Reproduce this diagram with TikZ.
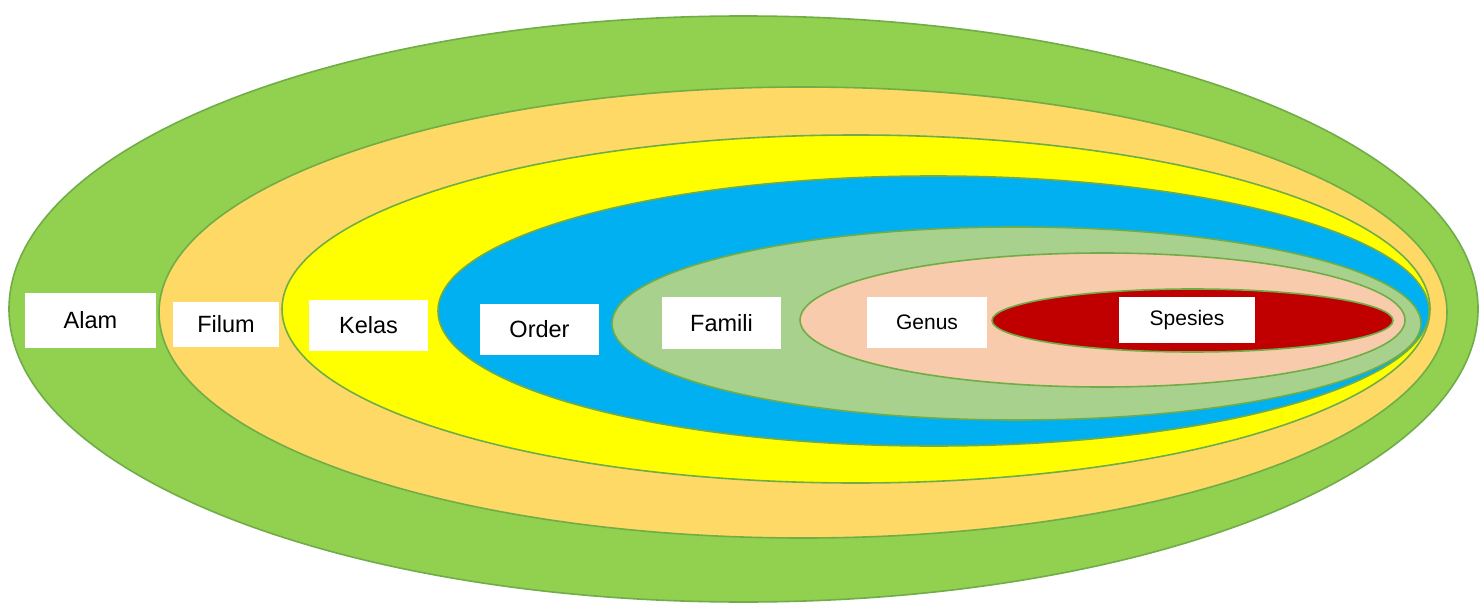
\documentclass[tikz,border=0pt]{standalone}
\usepackage{fontspec}
\setmainfont{Liberation Sans}
\definecolor{cAlam}{HTML}{92D050}
\definecolor{cFilum}{HTML}{FFD966}
\definecolor{cKelas}{HTML}{FFFF00}
\definecolor{cOrder}{HTML}{00B0F0}
\definecolor{cFamili}{HTML}{A9D18E}
\definecolor{cGenus}{HTML}{F8CBAD}
\definecolor{cSpesies}{HTML}{C00000}
\definecolor{cEdge}{HTML}{70AD47}
\tikzset{
  ring/.style={draw=cEdge, line width=1.6pt},
  lbl/.style={fill=white, inner sep=0pt, text=black, align=center, font=\fontsize{23.5}{28}\selectfont},
  lblsmall/.style={lbl, font=\fontsize{21}{25}\selectfont}
}
\begin{document}
\begin{tikzpicture}[x=1pt,y=-1pt]
\useasboundingbox (0,0) rectangle (1479,604);
\fill[white] (0,0) rectangle (1479,604);
\draw[ring, fill=cAlam]    (743.5,309)   ellipse [x radius=734.5pt, y radius=293pt];
\draw[ring, fill=cFilum]   (803,312.5)   ellipse [x radius=644pt,   y radius=225.5pt];
\draw[ring, fill=cKelas]   (856,309)     ellipse [x radius=574pt,   y radius=174pt];
\draw[ring, fill=cOrder]   (933.5,311)   ellipse [x radius=495.5pt, y radius=135pt];
\draw[ring, fill=cFamili]  (1016.5,323.5) ellipse [x radius=404.5pt, y radius=96.5pt];
\draw[ring, fill=cGenus]   (1102.5,320)  ellipse [x radius=302.5pt, y radius=67pt];
\draw[ring, fill=cSpesies] (1192.5,320.5) ellipse [x radius=200.5pt, y radius=31.5pt];
\node[lbl, minimum width=131pt, minimum height=55pt] (alam)    at (90.5,320.5) {Alam};
\node[lbl, minimum width=106pt, minimum height=45pt] (filum)   at (226,324.5)  {Filum};
\node[lbl, minimum width=119pt, minimum height=51pt] (kelas)   at (368.5,325.5) {Kelas};
\node[lbl, minimum width=119pt, minimum height=51pt] (order)   at (539.5,329.5) {Order};
\node[lbl, minimum width=119pt, minimum height=52pt] (famili)  at (721.5,323)  {Famili};
\node[lblsmall, minimum width=120pt, minimum height=51pt] (genus)   at (927,322.5) {Genus};
\node[lblsmall, minimum width=136pt, minimum height=46pt] (spesies) at (1187,320) {Spesies};
\end{tikzpicture}
\end{document}
